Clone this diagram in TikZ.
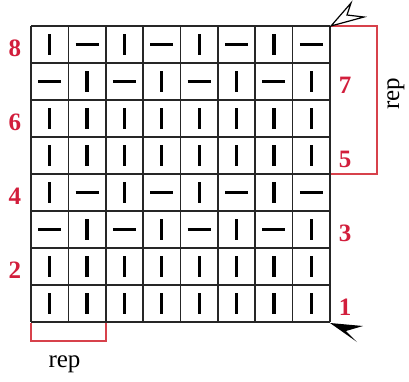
\documentclass[tikz,border=0pt]{standalone}
\usepackage{fontspec}
\setmainfont{Liberation Serif}
\definecolor{numred}{RGB}{210,30,60}
\definecolor{repred}{RGB}{215,65,75}
\begin{document}
\begin{tikzpicture}[x=1pt,y=-1pt,
  gridline/.style={line width=1.7pt,black!85},
  vbar/.style={line width=3.2pt,black},
  hbar/.style={line width=3pt,black},
  rownum/.style={text=numred,font=\fontsize{25}{27}\selectfont\bfseries,inner sep=0pt,anchor=center},
  bracket/.style={draw=repred,line width=1.4pt},
  replabel/.style={font=\fontsize{25}{27}\selectfont,inner sep=0pt,text=black}]
\useasboundingbox (0,0) rectangle (409,381);
\fill[white] (0,0) rectangle (409,381);
% grid
\foreach \i in {0,...,8}{
  \draw[gridline] ({31+\i*37.375},26) -- ({31+\i*37.375},322);
  \draw[gridline] (31,{26+\i*37}) -- (330,{26+\i*37});
}
% symbols
\foreach \t/\p in {0/1,1/2,2/0,3/0,4/1,5/2,6/0,7/0}{
  \foreach \c in {0,...,7}{
    \pgfmathsetmacro\cx{31+(\c+0.5)*37.375}
    \pgfmathsetmacro\cy{26+(\t+0.5)*37}
    \pgfmathtruncatemacro\h{(\p>0)*(mod(\c+\p-1,2)==1)}
    \ifnum\h=1
      \draw[hbar] ({\cx-11.5},\cy) -- ({\cx+11.5},\cy);
    \else
      \draw[vbar] (\cx,{\cy-10.5}) -- (\cx,{\cy+10.5});
    \fi
  }
}
% row numbers
\node[rownum] (n8) at (15,{26+0.5*37+4}) {8};
\node[rownum] (n6) at (15,{26+2.5*37+4}) {6};
\node[rownum] (n4) at (15,{26+4.5*37+4}) {4};
\node[rownum] (n2) at (15,{26+6.5*37+4}) {2};
\node[rownum] (n7) at (345,{26+1.5*37+4}) {7};
\node[rownum] (n5) at (345,{26+3.5*37+4}) {5};
\node[rownum] (n3) at (345,{26+5.5*37+4}) {3};
\node[rownum] (n1) at (345,{26+7.5*37+4}) {1};
% repeat brackets
\draw[bracket] (331,26) -- (377,26) -- (377,174) -- (331,174);
\node[replabel,rotate=90] (repr) at (396,94) {rep};
\draw[bracket] (31,323) -- (31,341) -- (106,341) -- (106,323);
\node[replabel,anchor=base] (repb) at (64.5,367) {rep};
% direction arrows
\draw[line width=1.2pt,fill=white,line join=miter] (331,26) -- (351,3) -- (347,15) -- (364,17) -- cycle;
\fill[black] (330,323) -- (363,326) -- (346,331) -- (357,342) -- cycle;
\end{tikzpicture}
\end{document}
